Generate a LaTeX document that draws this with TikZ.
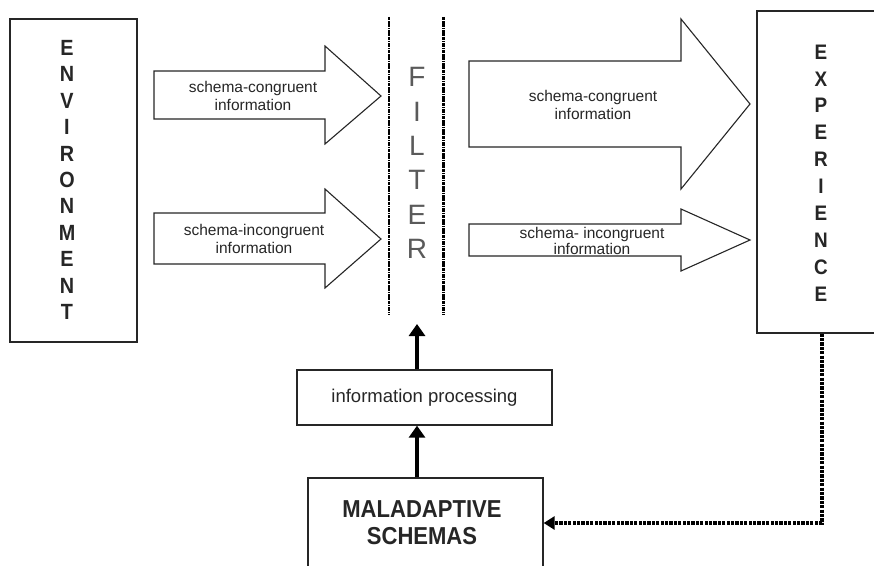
\documentclass[tikz,border=0pt]{standalone}
\usepackage{fontspec}
\setmainfont{Liberation Sans}
\newfontfamily\condsans[FakeStretch=0.9]{Liberation Sans Bold}
\usetikzlibrary{arrows.meta}
\definecolor{ink}{HTML}{262626}
\definecolor{filtergray}{HTML}{5A5A5A}
\begin{document}
\begin{tikzpicture}[x=1pt,y=-1pt,
  frame/.style={draw=ink,line width=1.3pt,inner sep=0pt,fill=white},
  blockarrow/.style={draw=ink,line width=1.1pt,line join=miter,fill=white},
  arrowtext/.style={font=\fontsize{15.5}{17.5}\selectfont,align=center,inner sep=0pt,text=ink},
  bigletters/.style={font=\condsans\fontsize{22}{26.4}\selectfont,align=center,inner sep=0pt,text=ink},
  filterletters/.style={font=\fontsize{28}{34.4}\selectfont,align=center,inner sep=0pt,text=filtergray},
  filterline/.style={draw=black,line width=2.6pt,dash pattern=on 3.5pt off 0.8pt on 1.5pt off 0.8pt},
  thickarrow/.style={draw=black,line width=3.5pt,-{Triangle[width=16pt,length=12pt]}},
  feedback/.style={draw=black,line width=3.5pt,dash pattern=on 3.2pt off 1.2pt,-{Triangle[width=13pt,length=11pt]}},
]
\useasboundingbox (0,0) rectangle (874,565);

% environment column
\node[frame,minimum width=127pt,minimum height=323pt] (env) at (73.5,180.5) {};
\node[bigletters] (envtext) at (67,180) {E\\N\\V\\I\\R\\O\\N\\M\\E\\N\\T};

% experience column (runs past the right margin)
\node[frame,minimum width=126pt,minimum height=322pt] (exper) at (820,172) {};
\node[bigletters,font=\condsans\fontsize{21}{26.9}\selectfont] (expertext) at (821,173) {E\\X\\P\\E\\R\\I\\E\\N\\C\\E};

% filter between two dash-dotted lines
\node[minimum width=54pt,minimum height=298pt,inner sep=0pt] (filter) at (416,166) {};
\draw[filterline] (filter.north west) -- (filter.south west);
\draw[filterline] (filter.north east) -- (filter.south east);
\node[filterletters] (filtertext) at (417,163) {F\\I\\L\\T\\E\\R};
\coordinate (filterin) at (417,324);

% block arrows: environment -> filter
\draw[blockarrow] (154,71) -- (325,71) -- (325,46) -- (381,96) -- (325,144) -- (325,119) -- (154,119) -- cycle;
\node[arrowtext] (congin) at (253,96) {schema-congruent\\information};
\draw[blockarrow] (154,213) -- (325,213) -- (325,189) -- (381,239) -- (325,288) -- (325,264) -- (154,264) -- cycle;
\node[arrowtext] (incongin) at (254,239) {schema-incongruent\\information};

% block arrows: filter -> experience
\draw[blockarrow] (469,61) -- (681,61) -- (681,19) -- (750,104) -- (681,189) -- (681,147) -- (469,147) -- cycle;
\node[arrowtext] (congout) at (593,105) {schema-congruent\\information};
\draw[blockarrow] (469,224) -- (681,224) -- (681,209) -- (750,240) -- (681,271) -- (681,256) -- (469,256) -- cycle;
\node[arrowtext,font=\fontsize{15.5}{16}\selectfont] (incongout) at (592,241) {schema- incongruent\\information};

% processing chain
\node[frame,minimum width=255pt,minimum height=55pt,font=\fontsize{18.5}{20}\selectfont,text=ink] (info) at (424.5,397.5) {information processing};
\node[frame,minimum width=235pt,minimum height=90pt] (malad) at (425.5,523) {};
\node[bigletters,font=\condsans\fontsize{24.5}{27}\selectfont] (maladtext) at (422,523) {MALADAPTIVE\\SCHEMAS};

\draw[thickarrow] (info.north -| filterin) -- (filterin);
\draw[thickarrow] (malad.north -| filterin) -- (info.south -| filterin);
\draw[feedback] ([xshift=2pt]exper.south) |- (malad.east);
\end{tikzpicture}
\end{document}
